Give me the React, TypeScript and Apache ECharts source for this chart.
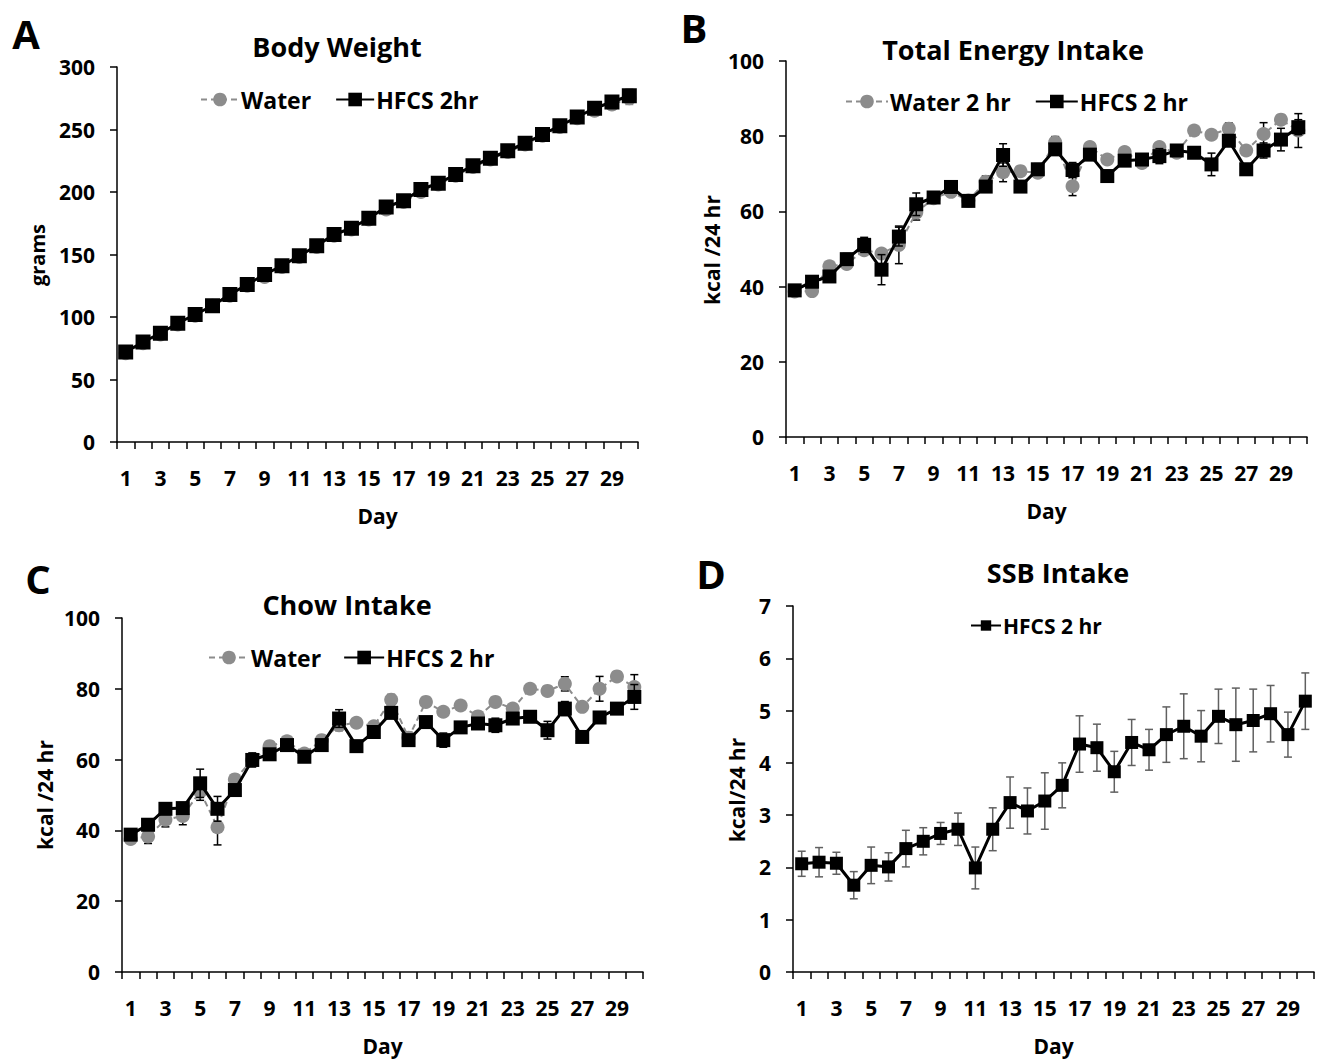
import React, { useEffect, useRef } from "react";
import * as echarts from "echarts";

const FONT = "'Open Sans', 'Noto Sans', sans-serif";

const days = ["1","2","3","4","5","6","7","8","9","10","11","12","13","14","15","16","17","18","19","20","21","22","23","24","25","26","27","28","29","30"];

// Panel A: Body Weight (grams)
const bwWater = [71,79,86,94,101,109,117,125,132,140,148,156,165,170,178,186,192,200,206,213,220,226,232,238,245,252,259,265,270,275];
const bwWaterSE = [2,2,2,2,2,2,2,2,2,3,3,3,3,3,3,3,3,3,3,3,3,3,3,3,4,4,4,4,4,5];
const bwHfcs = [72,80,87,95,102,109,118,126,134,141,149,157,166,171,179,188,193,202,207,214,221,227,233,239,246,253,260,267,272,277];
const bwHfcsSE = [2,2,2,2,2,2,2,2,2,2,3,3,3,3,3,3,3,3,3,3,3,3,3,3,3,4,4,4,4,5];

// Panel B: Total Energy Intake (kcal/24 hr)
const teWater = [38.7,38.8,45.4,46.0,49.7,48.8,51.1,59.7,63.5,65.2,62.9,67.9,70.4,70.7,70.3,78.4,66.7,77.1,73.8,75.8,72.9,77.1,75.6,81.5,80.4,82.0,76.2,80.6,84.4,81.5];
const teWaterSE = [1,1,1,1,1,1,5,2,1,1,1,1.5,2.5,1,1,1.5,2.5,1,1,1,1,1,1,1,1,1.5,1,3,1,4.5];
const teHfcs = [39.0,41.3,42.7,47.3,51.1,44.5,53.3,61.9,63.7,66.5,62.8,66.6,75.0,66.6,71.2,76.5,71.0,75.1,69.4,73.5,73.8,74.7,76.2,75.6,72.5,78.8,71.2,76.2,79.1,82.4];
const teHfcsSE = [1,1,1,1.5,2,4,2.5,3,1,1,1.5,1.5,3,1.5,1.5,1.5,2,1,1.5,1.5,1.5,2,1.5,1,3,1.5,1.5,2,3,2];

// Panel C: Chow Intake (kcal/24 hr)
const chWater = [37.6,38.3,43.0,44.1,51.0,40.9,54.4,59.9,63.8,65.2,61.7,65.5,69.7,70.4,69.4,76.9,66.2,76.3,73.5,75.3,72.2,76.3,74.4,80.0,79.4,81.4,74.9,80.0,83.5,80.5];
const chWaterSE = [1,2,2,2.5,2.5,5,1,1,1,1,1,1,1.5,1,1,1.5,1.5,1,1,1,1,1,1,1,1,2,1,3.5,1,3.5];
const chHfcs = [38.8,41.6,46.1,46.3,53.3,46.1,51.4,59.9,61.5,64.1,60.8,64.1,71.6,63.8,67.8,73.2,65.5,70.6,65.5,69.1,70.2,69.7,71.6,72.1,68.3,74.4,66.4,71.9,74.4,77.7];
const chHfcsSE = [1,1,1,1,4,3.5,1.5,2,1,1,1.5,1.5,2.5,1.5,1.5,1.5,1.5,1,2,1.5,1.5,2,1.5,1,2.5,2,1.5,1,1.5,3.5];

// Panel D: SSB Intake (kcal/24 hr)
const ssbHfcs = [2.07,2.10,2.08,1.66,2.04,2.01,2.36,2.50,2.65,2.73,1.99,2.73,3.24,3.08,3.27,3.57,4.36,4.29,3.83,4.39,4.25,4.54,4.70,4.51,4.89,4.73,4.81,4.94,4.54,5.18];
const ssbHfcsSE = [0.24,0.28,0.21,0.26,0.35,0.27,0.35,0.26,0.21,0.31,0.40,0.41,0.49,0.44,0.54,0.43,0.54,0.45,0.39,0.44,0.39,0.53,0.62,0.49,0.52,0.70,0.60,0.54,0.43,0.54];

const GREY = "#8c8c8c";

function errSeries(idx: number, vals: number[], se: number[], color: string, z: number) {
  return {
    type: "custom",
    xAxisIndex: idx,
    yAxisIndex: idx,
    z,
    silent: true,
    data: vals.map((v, i) => [i, v, v + se[i], v - se[i]]),
    renderItem: (params: any, api: any) => {
      const hi = api.coord([api.value(0), api.value(2)]);
      const lo = api.coord([api.value(0), api.value(3)]);
      const w = 4;
      const st = { stroke: color, lineWidth: 1.5 };
      return {
        type: "group",
        children: [
          { type: "line", shape: { x1: hi[0], y1: hi[1], x2: lo[0], y2: lo[1] }, style: st },
          { type: "line", shape: { x1: hi[0] - w, y1: hi[1], x2: hi[0] + w, y2: hi[1] }, style: st },
          { type: "line", shape: { x1: lo[0] - w, y1: lo[1], x2: lo[0] + w, y2: lo[1] }, style: st },
        ],
      };
    },
  };
}

function waterSeries(idx: number, name: string, vals: number[]) {
  return {
    type: "line",
    name,
    xAxisIndex: idx,
    yAxisIndex: idx,
    z: 2,
    data: vals,
    symbol: "circle",
    symbolSize: 14,
    showSymbol: true,
    showAllSymbol: true,
    itemStyle: { color: GREY },
    lineStyle: { color: GREY, width: 2, type: [6, 4] },
  };
}

function hfcsSeries(idx: number, name: string, vals: number[], size: number) {
  return {
    type: "line",
    name,
    xAxisIndex: idx,
    yAxisIndex: idx,
    z: 4,
    data: vals,
    symbol: "rect",
    symbolSize: size,
    showSymbol: true,
    showAllSymbol: true,
    itemStyle: { color: "#000" },
    lineStyle: { color: "#000", width: 3 },
  };
}

const textBase = { fontFamily: FONT, fontWeight: "bold", color: "#000" };

function xAxis(idx: number) {
  return {
    type: "category",
    gridIndex: idx,
    data: days,
    boundaryGap: true,
    axisLine: { show: true, lineStyle: { color: "#000", width: 1.5 } },
    axisTick: { show: true, interval: 0, length: 7, lineStyle: { color: "#000", width: 1.5 } },
    axisLabel: { ...textBase, interval: 1, fontSize: 21, margin: 25 },
    splitLine: { show: false },
    name: "Day",
    nameLocation: "middle",
    nameGap: 63,
    nameTextStyle: { ...textBase, fontSize: 21 },
  };
}

function yAxis(idx: number, max: number, interval: number) {
  return {
    type: "value",
    gridIndex: idx,
    min: 0,
    max,
    interval,
    axisLine: { show: true, lineStyle: { color: "#000", width: 1.5 } },
    axisTick: { show: true, length: 7, lineStyle: { color: "#000", width: 1.5 } },
    axisLabel: { ...textBase, fontSize: 21, margin: 22 },
    splitLine: { show: false },
  };
}

function legend(left: number, top: number, names: string[], fontSize: number, itemWidth: number, itemHeight: number, itemGap: number) {
  return {
    left,
    top,
    padding: 0,
    itemGap,
    itemWidth,
    itemHeight,
    data: names,
    selectedMode: false,
    textStyle: { ...textBase, fontSize, padding: [0, 0, 0, -3] },
  };
}

function gText(text: string, x: number, y: number, fontSize: number, rotation = 0) {
  return {
    type: "text",
    x,
    y,
    rotation,
    style: { text, fontFamily: FONT, fontWeight: "bold", fontSize, fill: "#000", align: "center", verticalAlign: "middle" },
  };
}

export default function App() {
  const ref = useRef<HTMLDivElement>(null);
  useEffect(() => {
    if (!ref.current) return;
    const chart = echarts.init(ref.current, null, { renderer: "svg" });
    const option: any = {
      animation: false,
      backgroundColor: "#fff",
      grid: [
        { left: 117, top: 67, width: 521, height: 375 },
        { left: 786, top: 61, width: 521, height: 376 },
        { left: 122, top: 618, width: 521, height: 354 },
        { left: 793, top: 606, width: 521, height: 366 },
      ],
      xAxis: [xAxis(0), xAxis(1), xAxis(2), xAxis(3)],
      yAxis: [yAxis(0, 300, 50), yAxis(1, 100, 20), yAxis(2, 100, 20), yAxis(3, 7, 1)],
      legend: [
        legend(200, 88, ["Water", "HFCS 2hr"], 23, 38, 17, 24),
        legend(845, 90, ["Water 2 hr", "HFCS 2 hr"], 23, 42, 17, 24),
        legend(208, 646, ["Water", "HFCS 2 hr"], 23, 40, 17, 22),
        legend(970, 615, ["HFCS 2 hr"], 21, 30, 13, 20),
      ],
      graphic: [
        gText("A", 26, 33, 40),
        gText("B", 694, 27, 40),
        gText("C", 38, 578, 40),
        gText("D", 711, 573, 40),
        gText("Body Weight", 337, 46, 27),
        gText("Total Energy Intake", 1013, 49, 27),
        gText("Chow Intake", 347, 604, 27),
        gText("SSB Intake", 1058, 572, 27),
        gText("grams", 37, 255, 20, Math.PI / 2),
        gText("kcal /24 hr", 712, 250, 21, Math.PI / 2),
        gText("kcal /24 hr", 45, 795, 21, Math.PI / 2),
        gText("kcal/24 hr", 737, 790, 21, Math.PI / 2),
      ],
      series: [
        errSeries(0, bwWater, bwWaterSE, GREY, 1),
        waterSeries(0, "Water", bwWater),
        errSeries(0, bwHfcs, bwHfcsSE, "#000", 3),
        hfcsSeries(0, "HFCS 2hr", bwHfcs, 15),

        errSeries(1, teWater, teWaterSE, "#000", 1),
        waterSeries(1, "Water 2 hr", teWater),
        errSeries(1, teHfcs, teHfcsSE, "#000", 3),
        hfcsSeries(1, "HFCS 2 hr", teHfcs, 14),

        errSeries(2, chWater, chWaterSE, "#000", 1),
        waterSeries(2, "Water", chWater),
        errSeries(2, chHfcs, chHfcsSE, "#000", 3),
        hfcsSeries(2, "HFCS 2 hr", chHfcs, 14),

        errSeries(3, ssbHfcs, ssbHfcsSE, "#606060", 3),
        hfcsSeries(3, "HFCS 2 hr", ssbHfcs, 13),
      ],
    };
    chart.setOption(option);
    return () => chart.dispose();
  }, []);
  return (
    <div
      ref={ref}
      style={{ position: "fixed", left: 0, top: 0, width: 1327, height: 1059, background: "#fff" }}
    />
  );
}
